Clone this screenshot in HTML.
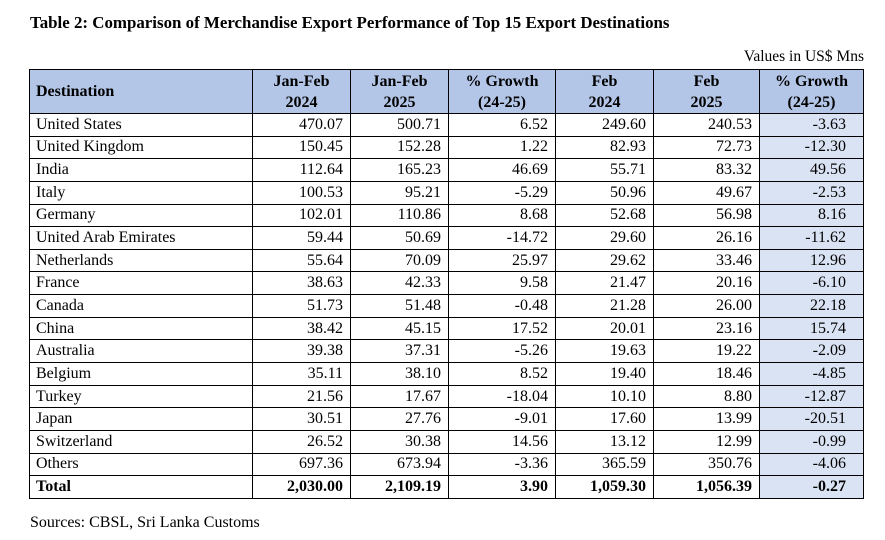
<!DOCTYPE html>
<html><head><meta charset="utf-8"><style>
body{margin:0;width:885px;height:540px;background:#fff;position:relative;font-family:"Liberation Serif",serif;color:#000;overflow:hidden}
.t{position:absolute;left:30px;top:13px;font-weight:bold;font-size:16.9px}
.v{position:absolute;right:21px;top:48px;font-size:15.5px}
.s{position:absolute;left:30px;top:514px;font-size:16px}
table{position:absolute;left:29px;top:69px;border-collapse:collapse;table-layout:fixed;font-size:16px}
td{border:1px solid #000;padding:0 7px 0 6px;height:21.65px;line-height:20px;text-align:right;white-space:nowrap;overflow:hidden}
td:first-child{text-align:left}
td:last-child{background:#dae3f3;padding-right:17px}
tr.h td{background:#b4c6e7;font-weight:bold;text-align:center;height:43px;line-height:21px;padding:0}
tr.h td:first-child{text-align:left;padding-left:6px}
tr.b td{font-weight:bold}
</style></head><body>
<div class="t">Table 2: Comparison of Merchandise Export Performance of Top 15 Export Destinations</div>
<div class="v">Values in US$ Mns</div>
<table>
<colgroup><col style="width:223px"><col style="width:98px"><col style="width:98px"><col style="width:107px"><col style="width:98px"><col style="width:106px"><col style="width:104px"></colgroup>
<tr class="h"><td>Destination</td><td>Jan-Feb<br>2024</td><td>Jan-Feb<br>2025</td><td>% Growth<br>(24-25)</td><td>Feb<br>2024</td><td>Feb<br>2025</td><td>% Growth<br>(24-25)</td></tr>
<tr><td>United States</td><td>470.07</td><td>500.71</td><td>6.52</td><td>249.60</td><td>240.53</td><td>-3.63</td></tr>
<tr><td>United Kingdom</td><td>150.45</td><td>152.28</td><td>1.22</td><td>82.93</td><td>72.73</td><td>-12.30</td></tr>
<tr><td>India</td><td>112.64</td><td>165.23</td><td>46.69</td><td>55.71</td><td>83.32</td><td>49.56</td></tr>
<tr><td>Italy</td><td>100.53</td><td>95.21</td><td>-5.29</td><td>50.96</td><td>49.67</td><td>-2.53</td></tr>
<tr><td>Germany</td><td>102.01</td><td>110.86</td><td>8.68</td><td>52.68</td><td>56.98</td><td>8.16</td></tr>
<tr><td>United Arab Emirates</td><td>59.44</td><td>50.69</td><td>-14.72</td><td>29.60</td><td>26.16</td><td>-11.62</td></tr>
<tr><td>Netherlands</td><td>55.64</td><td>70.09</td><td>25.97</td><td>29.62</td><td>33.46</td><td>12.96</td></tr>
<tr><td>France</td><td>38.63</td><td>42.33</td><td>9.58</td><td>21.47</td><td>20.16</td><td>-6.10</td></tr>
<tr><td>Canada</td><td>51.73</td><td>51.48</td><td>-0.48</td><td>21.28</td><td>26.00</td><td>22.18</td></tr>
<tr><td>China</td><td>38.42</td><td>45.15</td><td>17.52</td><td>20.01</td><td>23.16</td><td>15.74</td></tr>
<tr><td>Australia</td><td>39.38</td><td>37.31</td><td>-5.26</td><td>19.63</td><td>19.22</td><td>-2.09</td></tr>
<tr><td>Belgium</td><td>35.11</td><td>38.10</td><td>8.52</td><td>19.40</td><td>18.46</td><td>-4.85</td></tr>
<tr><td>Turkey</td><td>21.56</td><td>17.67</td><td>-18.04</td><td>10.10</td><td>8.80</td><td>-12.87</td></tr>
<tr><td>Japan</td><td>30.51</td><td>27.76</td><td>-9.01</td><td>17.60</td><td>13.99</td><td>-20.51</td></tr>
<tr><td>Switzerland</td><td>26.52</td><td>30.38</td><td>14.56</td><td>13.12</td><td>12.99</td><td>-0.99</td></tr>
<tr><td>Others</td><td>697.36</td><td>673.94</td><td>-3.36</td><td>365.59</td><td>350.76</td><td>-4.06</td></tr>
<tr class="b"><td>Total</td><td>2,030.00</td><td>2,109.19</td><td>3.90</td><td>1,059.30</td><td>1,056.39</td><td>-0.27</td></tr>
</table>
<div class="s">Sources: CBSL, Sri Lanka Customs</div>
</body></html>
